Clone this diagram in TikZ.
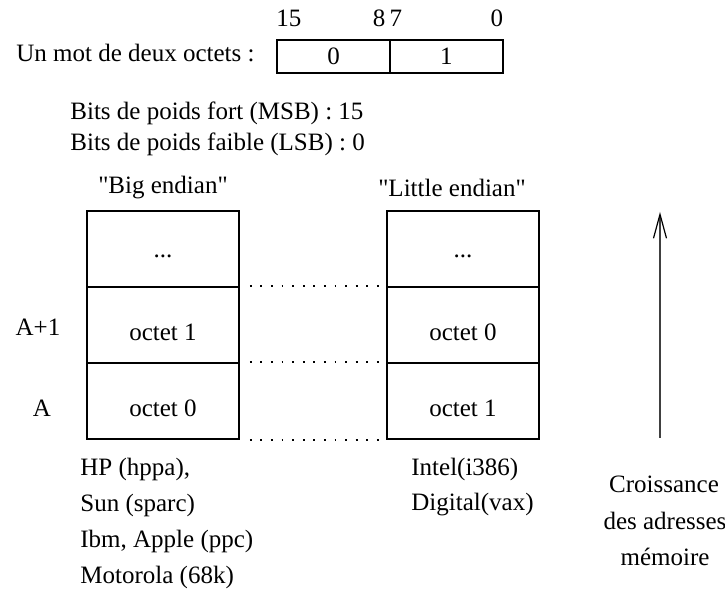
\documentclass[tikz,border=0pt]{standalone}
\usepackage{fontspec}
\setmainfont{Liberation Serif}
\newfontfamily\qfont{Liberation Serif}
\usetikzlibrary{arrows.meta}
\begin{document}
\begin{tikzpicture}[x=0.5pt,y=-0.5pt,
  every node/.style={font=\fontsize{12.5}{15}\selectfont, inner sep=0pt},
  cell/.style={draw, line width=0.75pt, minimum width=76pt, minimum height=38pt},
  ctext/.style={label={[yshift=-3.8pt]center:#1}},
  wcell/.style={draw, line width=0.7pt, minimum width=56.5pt, minimum height=16.5pt},
  dotline/.style={line width=0.9pt, dash pattern=on 0.9pt off 4.4pt},
  lbl/.style={anchor=west}]
\useasboundingbox (0,0) rectangle (725,593);
% word
\node[lbl] (mot) at (16,53) {Un mot de deux octets :};
\node[wcell] (w0) at (333.5,56.5) {0};
\node[wcell] (w1) at (446.5,56.5) {1};
\node (b15) at (289,18) {15};
\node (b8) at (379,18) {8};
\node (b7) at (396,18) {7};
\node (b0) at (497,18) {0};
\node[lbl] (msb) at (70,113) {Bits de poids fort (MSB) : 15};
\node[lbl] (lsb) at (70,144) {Bits de poids faible (LSB) : 0};
% titles
\node (big) at (163,188) {{\qfont "}Big endian{\qfont "}};
\node (little) at (452,188) {{\qfont "}Little endian{\qfont "}};
% big endian column
\node[cell, ctext={...}] (be1) at (163,249) {};
\node[cell, ctext={octet 1}] (be2) at (163,325) {};
\node[cell, ctext={octet 0}] (be3) at (163,401) {};
% little endian column
\node[cell, ctext={...}] (le1) at (463,249) {};
\node[cell, ctext={octet 0}] (le2) at (463,325) {};
\node[cell, ctext={octet 1}] (le3) at (463,401) {};
% addresses
\node (a1) at (38,327) {A+1};
\node (a0) at (42,408) {A};
% dotted links
\draw[dotline, shorten <=5pt, shorten >=3pt] (be2.north east) -- (le2.north west);
\draw[dotline, shorten <=5pt, shorten >=3pt] (be3.north east) -- (le3.north west);
\draw[dotline, shorten <=5pt, shorten >=3pt] (be3.south east) -- (le3.south west);
% arrow
\coordinate (arrbot) at (660,438);
\coordinate (arrtop) at (660,212);
\draw[line width=0.6pt, black!75, -{Straight Barb[length=12pt,width=6.5pt,line width=0.6pt,black]}] (arrbot) -- (arrtop);
% lists
\node[lbl] (hp) at (80,469) {HP (hppa),};
\node[lbl] (sun) at (80,505) {Sun (sparc)};
\node[lbl] (ibm) at (80,541) {Ibm, Apple (ppc)};
\node[lbl] (moto) at (80,577) {Motorola (68k)};
\node[lbl] (intel) at (411,469) {Intel(i386)};
\node[lbl] (dig) at (411,505) {Digital(vax)};
\node (cr) at (664,484) {Croissance};
\node (da) at (665,521) {des adresses};
\node (mem) at (665,557) {mémoire};
\end{tikzpicture}
\end{document}
